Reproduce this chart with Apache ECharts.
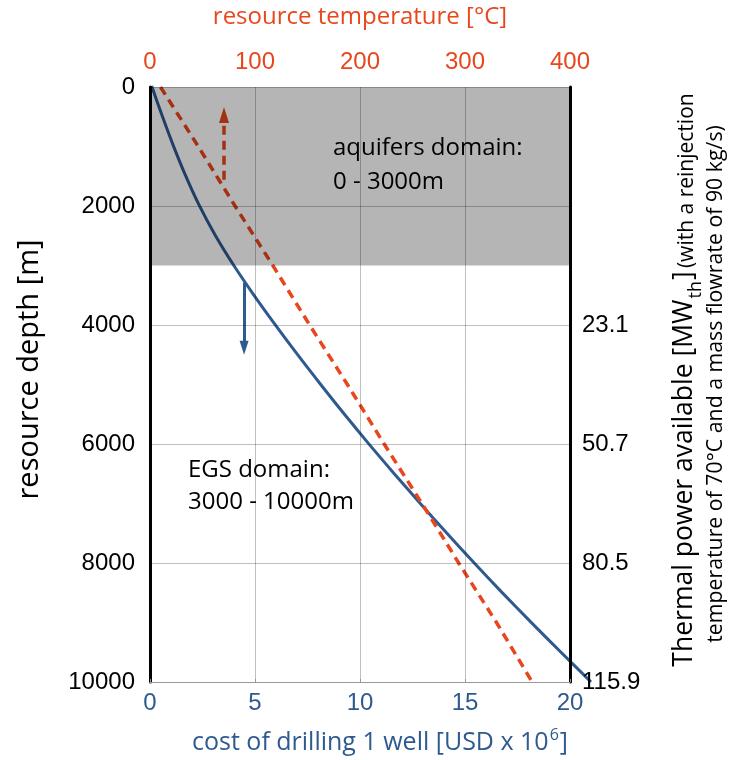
<!DOCTYPE html>
<html>
<head>
<meta charset="utf-8" />
<title>Drilling cost and temperature vs depth</title>
<script src="https://cdn.jsdelivr.net/npm/echarts@6/dist/echarts.min.js"></script>
<style>
  html, body { margin: 0; padding: 0; background: #fff; }
  #container { width: 732px; height: 760px; }
</style>
</head>
<body>
<div id="container"></div>
<script type="text/javascript">

    // drilling cost curve (USD x 10^6) against depth (m)
    var costDepth = [0, 500, 1000, 1500, 2000, 2500, 3000, 3500, 4000, 4500, 5000,
                     5500, 6000, 6500, 7000, 7500, 8000, 8500, 9000, 9500, 10000];
    var costValue = [0.08, 0.58, 1.11, 1.69, 2.34, 3.10, 3.97, 4.93, 5.95, 7.01, 8.11,
                     9.24, 10.41, 11.62, 12.86, 14.13, 15.43, 16.77, 18.15, 19.57, 21.0];

    // resource temperature (°C) against depth (m)
    var tempDepth = [0, 1000, 2000, 3000, 4000, 5000, 6000, 7000, 8000, 9000, 10000];
    var tempValue = [10, 46, 81, 117, 152, 188, 223, 259, 294, 330, 364];

    // right axis: thermal power at given depths
    var powerDepth = [4000, 6000, 8000, 10000];
    var powerLabel = ['23.1', '50.7', '80.5', '115.9'];

    // arrows: [x, depth] start and end
    var reinjArrow = [[70.5, 1560], [70.5, 470]];   // temperature axis
    var egsArrow = [[4.48, 3300], [4.48, 4390]];    // cost axis

    var aquiferTop = 0, aquiferBottom = 3000;

    var BLUE = '#2e5a8f';
    var RED = '#e8461c';
    var tickFont = 'Liberation Sans';
    var nameFont = 'Open Sans';

    // main plot box, and a wider hidden box so the cost curve may run past the frame
    var W = 732, L = 150, R = 162, R_WIDE = 122;
    var costMaxWide = 20 * (W - L - R_WIDE) / (W - L - R);

    function pairs(xs, ys) {
        var out = [];
        for (var i = 0; i < xs.length; i++) out.push([xs[i], ys[i]]);
        return out;
    }

    var chart = echarts.init(document.getElementById('container'));

    chart.setOption({
        animation: false,
        grid: [
            { left: L, right: R, top: 86, bottom: 78 },
            { left: L, right: R_WIDE, top: 86, bottom: 78 }
        ],
        xAxis: [{
            type: 'value', gridIndex: 0, position: 'bottom', min: 0, max: 20, interval: 5, z: 5,
            name: '{a|cost of drilling 1 well [USD x 10}{s|6}{a|]}',
            nameLocation: 'middle', nameGap: 45,
            nameTextStyle: {
                padding: [0, 0, 0, 40],
                rich: {
                    a: { fontFamily: nameFont, fontSize: 25, color: BLUE, verticalAlign: 'bottom' },
                    s: { fontFamily: nameFont, fontSize: 16, color: BLUE, verticalAlign: 'top', padding: [0, 1, 12, 1] }
                }
            },
            axisLine: { show: true, onZero: false, lineStyle: { color: '#999', width: 1 } },
            axisTick: { show: true, inside: true, length: 3, lineStyle: { color: '#999' } },
            axisLabel: { color: BLUE, fontFamily: tickFont, fontSize: 24, margin: 9 },
            splitLine: { show: true, lineStyle: { color: 'rgba(0,0,0,0.25)', width: 1 } }
        }, {
            type: 'value', gridIndex: 0, position: 'top', min: 0, max: 400, interval: 100, z: 5,
            name: 'resource temperature [°C]',
            nameLocation: 'middle', nameGap: 58,
            nameTextStyle: { fontFamily: nameFont, fontSize: 24, color: RED },
            axisLine: { show: false, onZero: false },
            axisTick: { show: false },
            axisLabel: { color: RED, fontFamily: tickFont, fontSize: 24, margin: 13 },
            splitLine: { show: false }
        }, {
            type: 'value', gridIndex: 1, min: 0, max: costMaxWide, show: false
        }],
        yAxis: [{
            type: 'value', gridIndex: 0, position: 'left', inverse: true, min: 0, max: 10000, interval: 2000, z: 5,
            name: 'resource depth [m]',
            nameLocation: 'middle', nameGap: 106, nameRotate: 90,
            nameTextStyle: { fontFamily: nameFont, fontSize: 29, color: '#000', padding: [0, 0, 0, 30] },
            axisLine: { show: true, onZero: false, lineStyle: { color: '#000', width: 3 } },
            axisTick: { show: false },
            axisLabel: {
                color: '#000', fontFamily: tickFont, fontSize: 24, margin: 15,
                formatter: function (v) { return String(v); }
            },
            splitLine: { show: true, lineStyle: { color: 'rgba(0,0,0,0.25)', width: 1 } }
        }, {
            type: 'value', gridIndex: 0, position: 'right', inverse: true, min: 0, max: 10000, interval: 2000, z: 5,
            axisLine: { show: true, onZero: false, lineStyle: { color: '#000', width: 3 } },
            axisTick: { show: false },
            axisLabel: {
                color: '#000', fontFamily: tickFont, fontSize: 24, margin: 12,
                formatter: function (v) {
                    var i = powerDepth.indexOf(v);
                    return i < 0 ? '' : powerLabel[i];
                }
            },
            splitLine: { show: false }
        }, {
            type: 'value', gridIndex: 1, inverse: true, min: 0, max: 10000, show: false
        }],
        graphic: [{
            type: 'text', left: 333, top: 131, z: 1,
            style: { text: 'aquifers domain:\n0 - 3000m', fill: '#000', font: '24px "Open Sans"', lineHeight: 34 }
        }, {
            type: 'text', left: 188, top: 454, z: 1,
            style: { text: 'EGS domain:\n3000 - 10000m', fill: '#000', font: '24px "Open Sans"', lineHeight: 32 }
        }, {
            type: 'text', x: 684, y: 380, rotation: Math.PI / 2, z: 1,
            style: {
                text: '{b|Thermal power available [MW}{sub|th}{b|]} {c|(with a reinjection}',
                align: 'center', verticalAlign: 'middle',
                rich: {
                    b: { fontFamily: nameFont, fontSize: 26.5, fill: '#000', verticalAlign: 'bottom' },
                    sub: { fontFamily: nameFont, fontSize: 18, fill: '#000', verticalAlign: 'bottom', padding: [0, 1, -7, 1] },
                    c: { fontFamily: nameFont, fontSize: 21, fill: '#000', verticalAlign: 'bottom' }
                }
            }
        }, {
            type: 'text', x: 716, y: 384, rotation: Math.PI / 2, z: 1,
            style: {
                text: 'temperature of 70°C and a mass flowrate of 90 kg/s)',
                align: 'center', verticalAlign: 'middle',
                fill: '#000', font: '21.3px "Open Sans"'
            }
        }],
        series: [{
            name: 'cost',
            type: 'line',
            xAxisIndex: 2, yAxisIndex: 2,
            data: pairs(costValue, costDepth),
            smooth: 0.3,
            showSymbol: false,
            z: 2,
            lineStyle: { color: BLUE, width: 3 },
            markLine: {
                silent: true, z: 2,
                symbol: ['none', 'triangle'], symbolSize: [9, 14],
                label: { show: false },
                lineStyle: { color: BLUE, width: 3, type: 'solid' },
                data: [[{ coord: egsArrow[0] }, { coord: egsArrow[1] }]]
            }
        }, {
            name: 'temperature',
            type: 'line',
            xAxisIndex: 1, yAxisIndex: 0,
            data: pairs(tempValue, tempDepth),
            showSymbol: false,
            z: 2,
            lineStyle: { color: RED, width: 3.5, type: [9, 6] },
            markLine: {
                silent: true, z: 2,
                symbol: ['none', 'triangle'], symbolSize: [10, 16],
                label: { show: false },
                lineStyle: { color: RED, width: 3.5, type: [9, 6] },
                data: [[{ coord: reinjArrow[0] }, { coord: reinjArrow[1] }]]
            }
        }, {
            name: 'aquifers',
            type: 'line',
            xAxisIndex: 0, yAxisIndex: 0,
            data: [],
            markArea: {
                silent: true, z: 3,
                itemStyle: { color: 'rgba(0,0,0,0.29)' },
                data: [[{ yAxis: aquiferTop }, { yAxis: aquiferBottom }]]
            }
        }]
    });

</script>
</body>
</html>
